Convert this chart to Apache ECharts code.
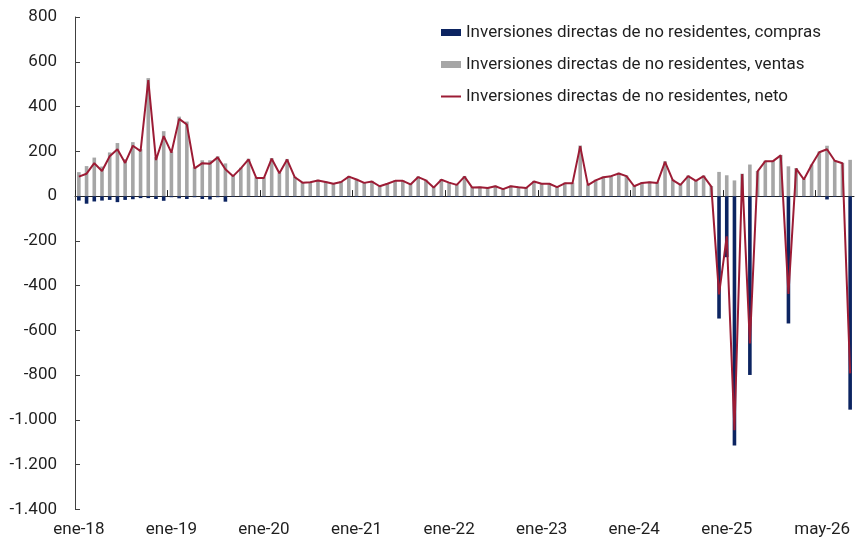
<!DOCTYPE html>
<html lang="es">
<head>
  <meta charset="UTF-8">
  <title>Inversiones directas de no residentes</title>
  <script src="https://cdn.jsdelivr.net/npm/echarts@6/dist/echarts.min.js"></script>
  <style>
    html, body { margin: 0; padding: 0; background: #fff; }
    #chart { width: 859px; height: 541px; }
  </style>
</head>
<body>
  <div id="chart"></div>
  <script>
    // meses ene-18 ... may-26
    var monthNames = ['ene', 'feb', 'mar', 'abr', 'may', 'jun', 'jul', 'ago', 'sep', 'oct', 'nov', 'dic'];
    var years = ['18', '19', '20', '21', '22', '23', '24', '25', '26'];
    var lastYearMonths = 5;

    var categories = [];
    years.forEach(function (y, yi) {
      var n = yi === years.length - 1 ? lastYearMonths : 12;
      for (var m = 0; m < n; m++) categories.push(monthNames[m] + '-' + y);
    });

    // etiquetas del eje x que se ven
    var shownLabels = ['ene-18', 'ene-19', 'ene-20', 'ene-21', 'ene-22', 'ene-23', 'ene-24', 'ene-25', 'may-26'];

    var compras = [
      -20, -34, -24, -20, -17, -27, -17, -14, -9, -9, -13, -21,
      -5, -10, -13, -5, -13, -15, -5, -25, -3, -3, -3, -3,
      -3, -3, -3, -3, -3, -3, -2, -3, -3, -3, -3, -3,
      -3, -3, -3, -3, -3, -3, -3, -3, -3, -3, -3, -3,
      -3, -3, -3, -3, -3, -3, -3, -3, -3, -3, -3, -3,
      -3, -3, -3, -3, -3, -3, -3, -3, -3, -3, -3, -3,
      -3, -3, -3, -3, -3, -3, -3, -3, -3, -3, -3, -547,
      -273, -1114, -2, -799, -3, -3, -3, -3, -569, -3, -3, -3,
      -3, -15, -3, -3, -954
    ];

    var ventas = [
      107, 134, 172, 132, 195, 237, 165, 241, 210, 527, 174, 290,
      199, 355, 333, 129, 160, 160, 178, 146, 92, 127, 167, 84,
      84, 170, 105, 166, 87, 63, 64, 73, 66, 58, 66, 90,
      77, 62, 68, 47, 58, 71, 71, 55, 88, 73, 41, 76,
      63, 53, 90, 41, 42, 39, 47, 34, 47, 42, 39, 68,
      58, 58, 43, 60, 60, 226, 52, 73, 87, 92, 104, 92,
      47, 62, 65, 62, 156, 74, 53, 92, 71, 92, 45, 108,
      93, 70, 100, 141, 112, 158, 158, 184, 133, 125, 76, 141,
      199, 225, 160, 149, 162
    ];

    var neto = [
      87, 100, 147, 112, 178, 209, 148, 225, 201, 518, 161, 268,
      194, 345, 320, 124, 147, 145, 173, 120, 89, 124, 164, 81,
      81, 167, 102, 163, 84, 60, 62, 70, 63, 55, 63, 87,
      74, 59, 65, 44, 55, 68, 68, 52, 85, 70, 38, 73,
      60, 50, 87, 38, 39, 36, 44, 31, 44, 39, 36, 65,
      55, 55, 40, 57, 57, 223, 49, 70, 84, 89, 101, 89,
      44, 59, 62, 59, 153, 71, 50, 89, 68, 89, 42, -439,
      -180, -1046, 98, -658, 110, 156, 156, 182, -437, 123, 74, 139,
      196, 209, 158, 147, -792
    ];

    var yMin = -1400, yMax = 800, yStep = 200;

    // bordes entre meses, solo para la línea del cero y sus marcas anuales
    var monthEdges = categories.concat(['']);

    function fmtNum(v) {
      var a = Math.abs(v);
      var s = a >= 1000 ? Math.floor(a / 1000) + '.' + String(a % 1000).padStart(3, '0') : String(a);
      return (v < 0 ? '-' : '') + s;
    }

    var font = 'Roboto';
    var fontSize = 17;
    var textColor = '#1f1f1f';
    var chart = echarts.init(document.getElementById('chart'));

    chart.setOption({
      animation: false,
      textStyle: { fontFamily: font },
      grid: { left: 75, right: 5, top: 17, bottom: 31.5 },
      legend: {
        orient: 'vertical',
        left: 435,
        top: 19,
        itemWidth: 20,
        itemHeight: 7,
        itemGap: 15,
        textStyle: { fontFamily: font, fontSize: fontSize, color: textColor },
        data: [
          { name: 'Inversiones directas de no residentes, compras', icon: 'rect' },
          { name: 'Inversiones directas de no residentes, ventas', icon: 'rect' },
          { name: 'Inversiones directas de no residentes, neto', itemStyle: { opacity: 0 } }
        ]
      },
      xAxis: [
        {
          type: 'category',
          data: categories,
          position: 'bottom',
          axisLine: { show: false, onZero: false },
          axisTick: { show: false },
          axisLabel: {
            interval: function (i, v) { return shownLabels.indexOf(v) >= 0; },
            margin: 12,
            fontFamily: font,
            fontSize: fontSize,
            color: textColor,
            alignMaxLabel: 'right'
          }
        },
        {
          type: 'category',
          data: monthEdges,
          boundaryGap: false,
          position: 'bottom',
          axisLine: { show: true, onZero: true, lineStyle: { color: '#222', width: 1 } },
          axisTick: { show: true, inside: true, interval: 11, length: 6, lineStyle: { color: '#222' } },
          axisLabel: { show: false }
        }
      ],
      yAxis: {
        type: 'value',
        min: yMin,
        max: yMax,
        interval: yStep,
        axisLine: { show: true, lineStyle: { color: '#404040' } },
        axisTick: { show: true, inside: true, length: 5, lineStyle: { color: '#404040' } },
        splitLine: { show: false },
        axisLabel: {
          margin: 18,
          fontFamily: font,
          fontSize: fontSize,
          color: textColor,
          formatter: fmtNum
        }
      },
      series: [
        {
          name: 'Inversiones directas de no residentes, compras',
          type: 'bar',
          stack: 'id',
          xAxisIndex: 0,
          barWidth: 3.6,
          itemStyle: { color: '#0c2461' },
          emphasis: { disabled: true },
          data: compras
        },
        {
          name: 'Inversiones directas de no residentes, ventas',
          type: 'bar',
          stack: 'id',
          xAxisIndex: 0,
          barWidth: 3.6,
          itemStyle: { color: '#a6a6a6' },
          emphasis: { disabled: true },
          data: ventas
        },
        {
          name: 'Inversiones directas de no residentes, neto',
          type: 'line',
          xAxisIndex: 0,
          symbol: 'none',
          z: 5,
          lineStyle: { color: '#9c1c35', width: 2 },
          itemStyle: { color: '#9c1c35' },
          emphasis: { disabled: true },
          data: neto
        }
      ]
    });
  </script>
</body>
</html>
